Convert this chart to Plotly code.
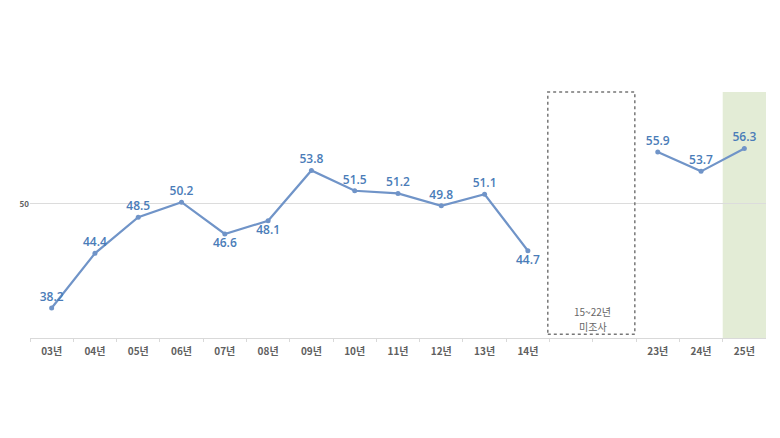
import plotly.graph_objects as go

# Dados
anos = ["03년", "04년", "05년", "06년", "07년", "08년", "09년", "10년", "11년", "12년", "13년", "14년",
        "23년", "24년", "25년"]
valores_antigos = [38.2, 44.4, 48.5, 50.2, 46.6, 48.1, 53.8, 51.5, 51.2, 49.8, 51.1, 44.7]
valores_recentes = [55.9, 53.7, 56.3]
posicoes = list(range(12)) + [14, 15, 16]   # 15~22년 sem pesquisa (2 posições vazias)
texto_lacuna = ["15~22년", "미조사"]

cor_linha = "#7094c8"
cor_texto = "#4a7cb8"

pos_antigas = posicoes[:12]
pos_recentes = posicoes[12:]

pos_texto_antigas = ["top center"] * 12
pos_texto_antigas[4] = "bottom center"
pos_texto_antigas[5] = "bottom center"
pos_texto_antigas[11] = "bottom center"

fig = go.Figure()

for xs, ys, tp in [(pos_antigas, valores_antigos, pos_texto_antigas),
                   (pos_recentes, valores_recentes, "top center")]:
    fig.add_trace(go.Scatter(
        x=xs, y=ys,
        mode="lines+markers+text",
        line=dict(color=cor_linha, width=2.2),
        marker=dict(color=cor_linha, size=5),
        text=[f"{v:.1f}" for v in ys],
        textposition=tp,
        textfont=dict(color=cor_texto, size=12, family="Open Sans", weight=600),
        showlegend=False,
        cliponaxis=False,
    ))

# Faixa verde do último ano
fig.add_shape(type="rect", xref="x", yref="paper",
              x0=posicoes[-1] - 0.5, x1=posicoes[-1] + 0.5, y0=0, y1=1,
              fillcolor="#e3ecd6", line=dict(width=0), layer="below")

# Caixa tracejada do período sem pesquisa
fig.add_shape(type="rect", xref="x", yref="paper",
              x0=11.46, x1=13.47, y0=0.015, y1=1,
              fillcolor="rgba(0,0,0,0)", line=dict(color="#777777", width=1.5, dash="dot"))
fig.add_annotation(x=12.5, xref="x", y=0.108, yref="paper", yanchor="middle",
                   text=texto_lacuna[0], showarrow=False,
                   font=dict(size=10, color="#666666", family="Noto Sans CJK KR"))
fig.add_annotation(x=12.5, xref="x", y=0.048, yref="paper", yanchor="middle",
                   text=texto_lacuna[1], showarrow=False,
                   font=dict(size=10, color="#666666", family="Noto Sans CJK KR"))

# a página tem 8px de margem no body
fig.update_layout(
    width=772, height=430,
    margin=dict(l=22, r=14, t=84, b=100),
    paper_bgcolor="white", plot_bgcolor="white",
    font=dict(family="Noto Sans CJK KR"),
    xaxis=dict(
        range=[-0.5, 16.5], automargin=False,
        tickvals=posicoes, ticktext=anos,
        tickfont=dict(size=10, color="#606060", weight=600),
        ticklabelstandoff=4,
        showgrid=False, zeroline=False,
        showline=True, linecolor="#d9d9d9", linewidth=1,
        ticks="",
        minor=dict(tickvals=[p + 0.5 for p in range(-1, 16)], ticks="outside",
                   ticklen=3, tickcolor="#d9d9d9", showgrid=False),
    ),
    yaxis=dict(
        range=[34.8, 62.7], automargin=False,
        tickvals=[50], ticktext=["50"],
        tickfont=dict(size=8, color="#606060", weight=700),
        showgrid=True, gridcolor="#dcdcdc", gridwidth=1,
        zeroline=False, showline=False, ticks="",
    ),
)

fig.write_html("out.html")
